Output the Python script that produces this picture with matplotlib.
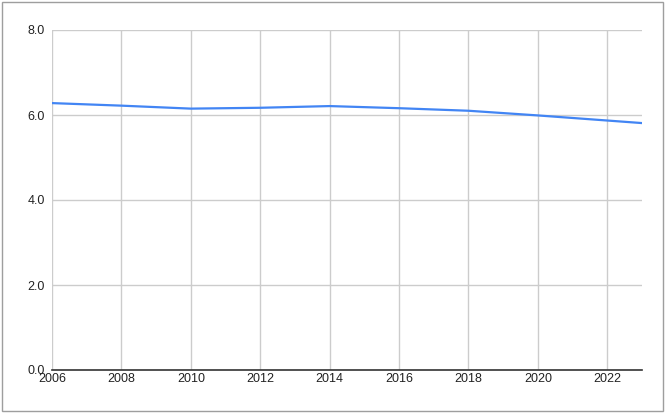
import matplotlib.pyplot as plt
from matplotlib.patches import Rectangle

plt.rcParams['font.family'] = ['Liberation Sans', 'DejaVu Sans']

years = [2006, 2008, 2010, 2012, 2014, 2016, 2018, 2020, 2022, 2023]
values = [6.28, 6.22, 6.15, 6.17, 6.21, 6.16, 6.10, 5.99, 5.87, 5.81]

xticks = list(range(2006, 2023, 2))
yticks = [0, 2, 4, 6, 8]

fig = plt.figure(figsize=(6.66, 4.13), dpi=100)
ax = fig.add_axes([52 / 666, 43 / 413, 590 / 666, 340 / 413])

ax.plot(years, values, color='#4285F4', linewidth=1.6, zorder=3)

ax.set_xlim(2006, 2023)
ax.set_ylim(0, 8)
ax.set_xticks(xticks)
ax.set_yticks(yticks)
ax.set_yticklabels([f'{v:.1f}' for v in yticks])
ax.grid(True, color='#cccccc', linewidth=1)
ax.set_axisbelow(True)
ax.tick_params(length=0, labelsize=9, colors='#222222', pad=5)
ax.tick_params(axis='x', pad=2)

for s in ['top', 'right', 'left']:
    ax.spines[s].set_visible(False)
ax.spines['bottom'].set_color('#333333')
ax.spines['bottom'].set_linewidth(1.2)

# frame around the chart
fig.patches.append(Rectangle((2 / 666, 2 / 413), 661 / 666, 409 / 413,
                             transform=fig.transFigure, fill=False,
                             edgecolor='#9e9e9e', linewidth=1))

fig.savefig('out.png', dpi=100)
